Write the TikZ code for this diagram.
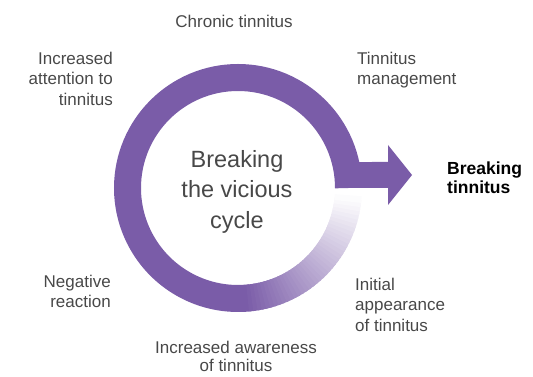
\documentclass[tikz,border=0pt]{standalone}
\usepackage{fontspec}
\setmainfont{Liberation Sans}
\usepackage{xcolor}
\usetikzlibrary{calc}
\definecolor{cyclepurple}{RGB}{122,92,168}
\definecolor{labelgrey}{RGB}{72,72,72}

\begin{document}
\begin{tikzpicture}[
        x=1pt, y=1pt,
        inner sep=0pt,
        label/.style={text=labelgrey, font=\fontsize{17}{20.3}\selectfont},
        title/.style={text=labelgrey, font=\fontsize{23.5}{30.6}\selectfont, align=center},
        goal/.style={text=black, font=\fontsize{17.5}{19}\selectfont\bfseries, align=left},
        ring/.style={line width=27pt, cyclepurple}]
        \useasboundingbox (0,0) rectangle (533,377);
        % ring centre
        \coordinate (C) at (238,189);
        
        % RING
        % solid part
        \draw[ring] (C) ++(0:110.5) arc[start angle=0, end angle=274, radius=110.5];
        % fading part
        \foreach \i in {0,...,40}
            \draw[ring, cyclepurple!\fpeval{100-\i*2.45}!white]
                (C) ++(273+2*\i:110.5) arc[start angle=273+2*\i, end angle=276.3+2*\i, radius=110.5];
        
        % ARROW
        \coordinate (in) at ($(C)+(97,0)$);
        \coordinate (out) at ($(C)+(12.1:124)$);
        \fill[cyclepurple] (in) -- (388,189) -- (388,172) -- (412,202)
            -- (388,232) -- (388,215) -- (out) -- cycle;
        
        % NODES
        % centre text
        \node[title, anchor=north] (cycle) at (237,227) {Breaking\\the vicious\\cycle};
        % top
        \node[label, anchor=north] (chronic) at (234,362) {Chronic tinnitus};
        % top right
        \node[label, anchor=north west, align=left] (management) at (357,325.5) {Tinnitus\\management};
        % right
        \node[goal, anchor=north west] (breaking) at (447,215.5) {Breaking\\tinnitus};
        % bottom right
        \node[label, anchor=north west, align=left] (initial) at (355,99) {Initial\\appearance\\of tinnitus};
        % bottom
        \node[label, anchor=north, align=center, font=\fontsize{17}{18}\selectfont] (awareness) at (236,36) {Increased awareness\\of tinnitus};
        % bottom left
        \node[label, anchor=north east, align=right] (negative) at (111,102) {Negative\\reaction};
        % top left
        \node[label, anchor=north east, align=right] (attention) at (113,325) {Increased\\attention to\\tinnitus};
    \end{tikzpicture}
\end{document}
